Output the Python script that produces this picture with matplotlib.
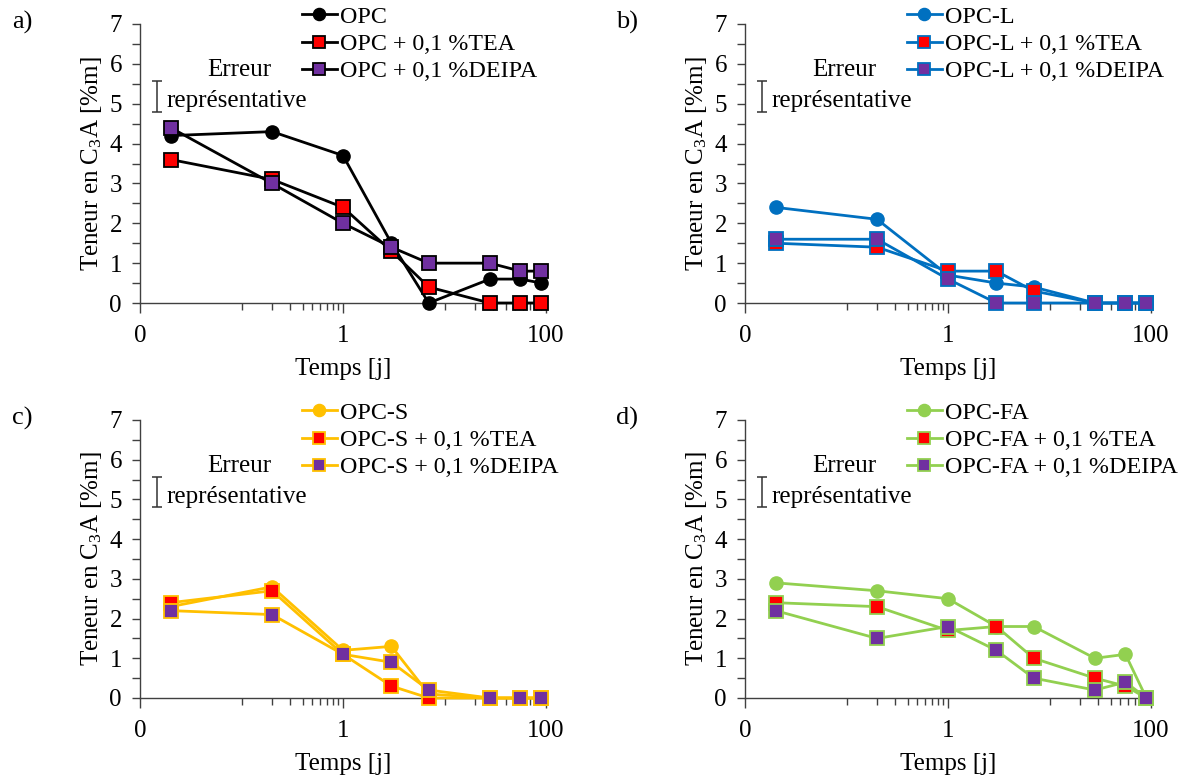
import matplotlib
matplotlib.use('Agg')
import matplotlib.pyplot as plt
from matplotlib.ticker import FixedLocator, FixedFormatter, NullFormatter

# ---------------- data ----------------
time_days = [0.02, 0.2, 1, 3, 7, 28, 56, 90]

a_labels = ["OPC", "OPC + 0,1 %TEA", "OPC + 0,1 %DEIPA"]
a_base = [4.2, 4.3, 3.7, 1.5, 0.0, 0.6, 0.6, 0.5]
a_tea = [3.6, 3.1, 2.4, 1.3, 0.4, 0.0, 0.0, 0.0]
a_deipa = [4.4, 3.0, 2.0, 1.4, 1.0, 1.0, 0.8, 0.8]

b_labels = ["OPC-L", "OPC-L + 0,1 %TEA", "OPC-L + 0,1 %DEIPA"]
b_base = [2.4, 2.1, 0.7, 0.5, 0.4, 0.0, 0.0, 0.0]
b_tea = [1.5, 1.4, 0.8, 0.8, 0.3, 0.0, 0.0, 0.0]
b_deipa = [1.6, 1.6, 0.6, 0.0, 0.0, 0.0, 0.0, 0.0]

c_labels = ["OPC-S", "OPC-S + 0,1 %TEA", "OPC-S + 0,1 %DEIPA"]
c_base = [2.3, 2.8, 1.2, 1.3, 0.1, 0.0, 0.0, 0.0]
c_tea = [2.4, 2.7, 1.1, 0.3, 0.0, 0.0, 0.0, 0.0]
c_deipa = [2.2, 2.1, 1.1, 0.9, 0.2, 0.0, 0.0, 0.0]

d_labels = ["OPC-FA", "OPC-FA + 0,1 %TEA", "OPC-FA + 0,1 %DEIPA"]
d_base = [2.9, 2.7, 2.5, 1.8, 1.8, 1.0, 1.1, 0.0]
d_tea = [2.4, 2.3, 1.7, 1.8, 1.0, 0.5, 0.3, 0.0]
d_deipa = [2.2, 1.5, 1.8, 1.2, 0.5, 0.2, 0.4, 0.0]

x_major = [0.01, 1, 100]
x_major_labels = ["0", "1", "100"]
x_minor = [0.1, 0.2, 0.3, 0.4, 0.5, 0.6, 0.7, 0.8, 0.9,
           10, 20, 30, 40, 50, 60, 70, 80, 90]
y_major = [0, 1, 2, 3, 4, 5, 6, 7]
y_minor = [0.5, 1.5, 2.5, 3.5, 4.5, 5.5, 6.5]

panel_letters = ["a)", "b)", "c)", "d)"]
line_colors = ["#000000", "#0070C0", "#FFC000", "#92D050"]
red = "#FF0000"
purple = "#7030A0"

err_center = 5.18
err_half = 0.38

# ---------------- style ----------------
FONT = "Liberation Serif"
plt.rcParams['font.family'] = [FONT, 'DejaVu Serif']
plt.rcParams['mathtext.fontset'] = 'custom'
plt.rcParams['mathtext.rm'] = FONT
plt.rcParams['mathtext.it'] = FONT + ':italic'
FS = 18

W, H = 1186, 777
fig = plt.figure(figsize=(W / 100, H / 100), dpi=100)

# axes boxes in pixels (left, top, right, bottom)
boxes = [(140, 24, 546, 303), (745, 24, 1151, 303),
         (140, 420, 546, 698), (745, 420, 1151, 698)]

panels = [
    (a_labels, a_base, a_tea, a_deipa),
    (b_labels, b_base, b_tea, b_deipa),
    (c_labels, c_base, c_tea, c_deipa),
    (d_labels, d_base, d_tea, d_deipa),
]

for i, ((l, t, r, b), (labels, base, tea, deipa)) in enumerate(zip(boxes, panels)):
    ax = fig.add_axes([l / W, 1 - b / H, (r - l) / W, (b - t) / H])
    col = line_colors[i]
    lw = 2.0
    ms = 9.5
    h1, = ax.plot(time_days, base, color=col, lw=lw, marker='o', ms=ms,
                  mfc=col, mec=col, clip_on=False, zorder=3)
    h2, = ax.plot(time_days, tea, color=col, lw=lw, marker='s', ms=ms,
                  mfc=red, mec=col, mew=1.3, clip_on=False, zorder=3)
    h3, = ax.plot(time_days, deipa, color=col, lw=lw, marker='s', ms=ms,
                  mfc=purple, mec=col, mew=1.3, clip_on=False, zorder=3)

    ax.set_xscale('log')
    ax.set_xlim(0.01, 100)
    ax.set_ylim(0, 7)
    ax.xaxis.set_major_locator(FixedLocator(x_major))
    ax.xaxis.set_major_formatter(FixedFormatter(x_major_labels))
    ax.xaxis.set_minor_locator(FixedLocator(x_minor))
    ax.xaxis.set_minor_formatter(NullFormatter())
    ax.yaxis.set_major_locator(FixedLocator(y_major))
    ax.yaxis.set_minor_locator(FixedLocator(y_minor))

    for s in ['top', 'right']:
        ax.spines[s].set_visible(False)
    for s in ['left', 'bottom']:
        ax.spines[s].set_color('#404040')
        ax.spines[s].set_linewidth(1.0)
    ax.tick_params(axis='both', which='both', direction='out', colors='#404040',
                   labelcolor='black', width=1.0, labelsize=FS)
    ax.tick_params(axis='x', which='major', length=7, pad=9)
    ax.tick_params(axis='x', which='minor', length=5)
    ax.tick_params(axis='y', which='major', length=6, pad=7)
    ax.tick_params(axis='y', which='minor', length=6)
    ax.set_facecolor('none')

    ax.set_xlabel("Temps [j]", fontsize=FS, labelpad=8)
    ax.set_ylabel("Teneur en C$_3$A [%m]", fontsize=FS, labelpad=4)

    # representative error
    tr = ax.get_yaxis_transform()
    ax.errorbar([0.042], [err_center], yerr=[err_half], transform=tr,
                color='#333333', lw=1.1, capsize=3.5, capthick=1.1,
                fmt='none', clip_on=False)
    ax.text(0.245, 5.85, "Erreur", transform=tr, ha='center', va='center',
            fontsize=FS)
    ax.text(0.239, 5.06, "représentative", transform=tr, ha='center',
            va='center', fontsize=FS)

    # legend
    leg = ax.legend([h1, h2, h3], labels, loc='upper left',
                    bbox_to_anchor=((l + 162) / W, 1 - (t - 18) / H),
                    bbox_transform=fig.transFigure, frameon=False, fontsize=17.3,
                    handlelength=1.45, handletextpad=0.12, labelspacing=0.22,
                    borderpad=0, borderaxespad=0, markerscale=0.92)

    # panel letter
    fig.text((l - 118) / W, 1 - (t - 2) / H, panel_letters[i], ha='center',
             va='center', fontsize=FS + 1)

fig.savefig("out.png", dpi=100)
